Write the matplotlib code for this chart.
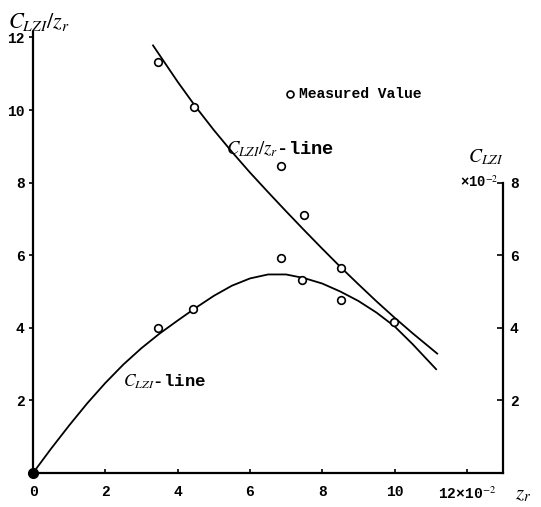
import numpy as np
import matplotlib
matplotlib.use("Agg")
import matplotlib.pyplot as plt

plt.rcParams["mathtext.fontset"] = "stix"
plt.rcParams["font.family"] = ["Liberation Mono", "DejaVu Sans"]

# measured values (z_r in 1e-2)
z_ratio = [3.46, 4.45, 6.86, 7.50, 8.52, 9.99]
ratio_vals = [11.31, 10.07, 8.45, 7.10, 5.64, 4.16]
z_clzi = [3.46, 4.43, 6.86, 7.44, 8.52]
clzi_vals = [3.99, 4.51, 5.92, 5.31, 4.76]

# curves
ratio_line_x = [3.32, 4.0, 4.5, 5.0, 5.5, 6.0, 6.5, 7.0, 7.5, 8.0, 8.5, 9.0, 9.5, 10.0, 10.5, 11.18]
ratio_line_y = [11.78, 10.78, 10.09, 9.45, 8.85, 8.28, 7.74, 7.21, 6.69, 6.18, 5.68, 5.20, 4.73, 4.28, 3.85, 3.29]
clzi_line_x = [0, 0.5, 1.0, 1.5, 2.0, 2.5, 3.0, 3.5, 4.0, 4.5, 5.0, 5.5, 6.0, 6.5, 7.0, 7.5,
               8.0, 8.5, 9.0, 9.5, 10.0, 10.5, 11.15]
clzi_line_y = [0, 0.67, 1.31, 1.92, 2.48, 2.99, 3.44, 3.84, 4.20, 4.55, 4.88, 5.16, 5.36, 5.47,
               5.47, 5.37, 5.22, 5.00, 4.74, 4.42, 4.04, 3.55, 2.86]

x_ticks = [0, 2, 4, 6, 8, 10, 12]
x_labels = ["0", "2", "4", "6", "8", "10", r"12×10$^{-2}$"]
left_ticks = [2, 4, 6, 8, 10, 12]
right_ticks = [2, 4, 6, 8]

fig = plt.figure(figsize=(5.41, 5.07), dpi=100)
ax = fig.add_axes([33 / 541, 34 / 507, 470 / 541, 441 / 507])
ax.set_xlim(0, 13)
ax.set_ylim(0, 12.15)

ax.plot(ratio_line_x, ratio_line_y, color="black", lw=1.3)
ax.plot(clzi_line_x, clzi_line_y, color="black", lw=1.3)
ax.plot(z_ratio, ratio_vals, "o", ms=5.5, mfc="white", mec="black", mew=1.2)
ax.plot(z_clzi, clzi_vals, "o", ms=5.5, mfc="white", mec="black", mew=1.2)
ax.plot([0], [0], "o", ms=7, color="black", clip_on=False, zorder=5)

for s in ["top", "right"]:
    ax.spines[s].set_visible(False)
for s in ["left", "bottom"]:
    ax.spines[s].set_linewidth(1.6)
ax.spines["left"].set_bounds(0, 12.15)

ax.set_xticks(x_ticks)
ax.set_xticklabels(x_labels, fontsize=10.5, fontweight="bold")
ax.set_yticks(left_ticks)
ax.set_yticklabels([str(t) for t in left_ticks], fontsize=10.5, fontweight="bold")
ax.tick_params(axis="x", direction="in", length=3, width=1.2, pad=9)
ax.tick_params(axis="y", direction="out", length=3, width=1.2, pad=3)

# right axis
ax2 = ax.twinx()
ax2.set_ylim(ax.get_ylim())
for s in ["top", "left", "bottom"]:
    ax2.spines[s].set_visible(False)
ax2.spines["right"].set_bounds(0, 8)
ax2.spines["right"].set_linewidth(1.6)
ax2.set_yticks(right_ticks)
ax2.set_yticklabels([str(t) for t in right_ticks], fontsize=10.5, fontweight="bold")
ax2.tick_params(axis="y", direction="in", length=4, width=1.2, pad=5)

# labels
fig.text(8 / 541, 1 - 22 / 507, r"$C_{LZI}/z_r$", fontsize=16, va="center", ha="left")
fig.text(468 / 541, 1 - 157 / 507, r"$C_{LZI}$", fontsize=14, va="center", ha="left")
fig.text(460 / 541, 1 - 182 / 507, r"×10$^{-2}$", fontsize=10, fontweight="bold",
         va="center", ha="left")
fig.text(515 / 541, 1 - 495 / 507, r"$z_r$", fontsize=15, va="center", ha="left")

ax.plot([7.1], [10.45], "o", ms=5, mfc="white", mec="black", mew=1.2)
ax.text(7.35, 10.45, "Measured Value", fontsize=10.5, fontweight="bold", va="center")
ax.text(5.35, 8.93, r"$C_{LZI}/z_r$-line", fontsize=13.5, fontweight="bold", va="center")
ax.text(2.5, 2.5, r"$C_{LZI}$-line", fontsize=12.5, fontweight="bold", va="center")

fig.savefig("out.png", dpi=100)
